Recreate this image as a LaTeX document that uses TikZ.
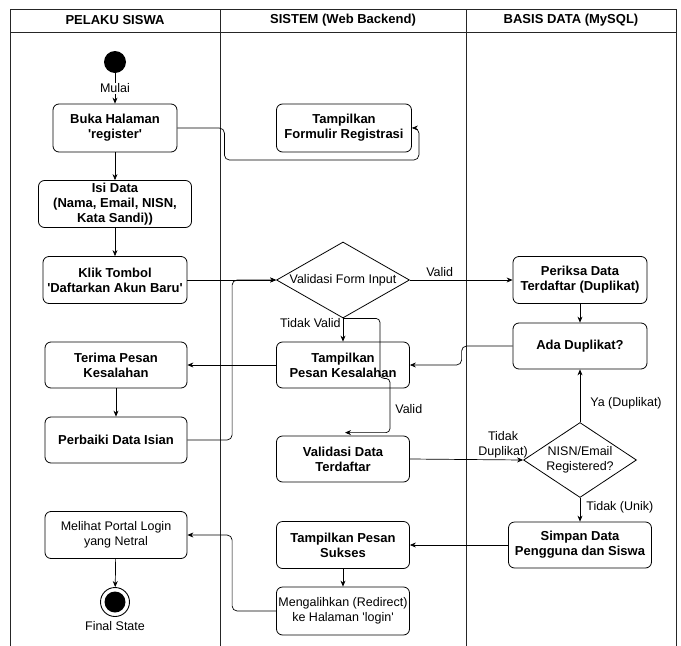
\documentclass[tikz,border=0pt]{standalone}
\usepackage{fontspec}
\setmainfont{Liberation Sans}
\usetikzlibrary{arrows.meta,shapes.geometric,positioning}

\begin{document}
\begin{tikzpicture}[x=1pt,y=-1pt,
    font=\fontsize{12.5}{14.5}\selectfont,
    lane/.style={line width=0.9pt, draw=black!85},
    act/.style={draw, rounded corners=6pt, line width=0.8pt, align=center, inner sep=1pt,
      font=\fontsize{13}{15}\selectfont\bfseries},
    actplain/.style={act, font=\fontsize{12.5}{14.5}\selectfont},
    decide/.style={draw, diamond, line width=0.8pt, align=center, inner sep=0pt},
    flow/.style={-{Stealth[length=6pt,width=5pt]}, line width=0.7pt},
    lbl/.style={inner sep=1pt}
  ]
  \useasboundingbox (0,0) rectangle (681,646);

  % swimlanes
  \draw[lane] (10,646) -- (10,9) -- (676,9) -- (676,646);
  \draw[lane] (10,32) -- (676,32);
  \draw[lane] (220,9) -- (220,646);
  \draw[lane] (466,9) -- (466,646);
  \node[font=\fontsize{13}{15}\selectfont\bfseries] (hsiswa) at (115,20.5) {PELAKU SISWA};
  \node[font=\fontsize{13}{15}\selectfont\bfseries] (hsistem) at (343,20.5) {SISTEM (Web Backend)};
  \node[font=\fontsize{13}{15}\selectfont\bfseries] (hbasis) at (571,20.5) {BASIS DATA (MySQL)};

  % pelaku siswa
  \node[circle, fill, minimum size=22pt, inner sep=0pt] (start) at (115,62) {};
  \node[act, minimum width=124pt, minimum height=48pt] (buka) at (115,128) {Buka Halaman\\\textquotesingle register\textquotesingle};
  \node[act, minimum width=153pt, minimum height=47pt] (isi) at (115,204) {Isi Data\\(Nama, Email, NISN,\\Kata Sandi))};
  \node[act, minimum width=144pt, minimum height=47pt] (klik) at (115,280) {Klik Tombol\\\textquotesingle Daftarkan Akun Baru\textquotesingle};
  \node[act, minimum width=142pt, minimum height=46pt] (terima) at (116,365) {Terima Pesan\\Kesalahan};
  \node[act, minimum width=142pt, minimum height=46pt] (perbaiki) at (116,440) {Perbaiki Data Isian};
  \node[actplain, minimum width=142pt, minimum height=47pt] (melihat) at (116,535) {Melihat Portal Login\\yang Netral};
  \node[circle, draw, line width=0.9pt, minimum size=29pt, inner sep=0pt] (final) at (115,602) {};
  \fill (final.center) circle (10.5pt);
  \node[below=1pt of final] (finallbl) {Final State};

  % sistem
  \node[act, minimum width=135pt, minimum height=48pt] (formulir) at (344,128) {Tampilkan\\Formulir Registrasi};
  \node[decide, aspect=1.75, minimum width=133pt, minimum height=76pt] (validform) at (343,280) {Validasi Form Input};
  \node[act, minimum width=133pt, minimum height=46pt] (pesanerr) at (343,365) {Tampilkan\\Pesan Kesalahan};
  \node[act, minimum width=133pt, minimum height=46pt] (validdata) at (343,459) {Validasi Data\\Terdaftar};
  \node[act, minimum width=133pt, minimum height=47pt] (sukses) at (343,545) {Tampilkan Pesan\\Sukses};
  \node[actplain, minimum width=133pt, minimum height=48pt] (alih) at (343,611) {Mengalihkan (Redirect)\\ke Halaman \textquotesingle login\textquotesingle};

  % basis data
  \node[act, minimum width=134pt, minimum height=47pt] (periksa) at (580,280) {Periksa Data\\Terdaftar (Duplikat)};
  \node[act, minimum width=134pt, minimum height=46pt] (ada) at (580,346) {Ada Duplikat?};
  \node[decide, aspect=1.5, minimum width=113pt, minimum height=75pt] (nisn) at (580,460) {NISN/Email\\Registered?};
  \node[act, minimum width=143pt, minimum height=46pt] (simpan) at (580,545) {Simpan Data\\Pengguna dan Siswa};

  % alur
  \draw[flow] (start) -- node[fill=white, lbl] {Mulai} (buka);
  \draw[flow, rounded corners=5pt] (buka.east) -- ++(47,0) |- ([xshift=7pt, yshift=-32pt]formulir.east) |- (formulir.east);
  \draw[flow] (buka) -- (isi);
  \draw[flow] (isi) -- (klik);
  \draw[flow] (klik) -- (validform);
  \draw[flow] (validform.east) -- node[pos=0.29, above, lbl, yshift=2pt] {Valid} (periksa.west);
  \draw[flow] (validform.south) -- node[pos=0.2, left, lbl, xshift=-1pt] {Tidak Valid} (pesanerr.north);
  \draw[flow, rounded corners=4pt] (validform.south) -- ++(37,0) -- ++(0,60) -- ++(10,0)
    |- node[pos=0.28, right, lbl, xshift=4pt] {Valid} ([xshift=2pt, yshift=3pt]validdata.north);
  \draw[flow] (periksa) -- (ada);
  \draw[flow, rounded corners=5pt] (ada.west) -- ++(-51,0) |- (pesanerr.east);
  \draw[flow] (pesanerr) -- (terima);
  \draw[flow] (terima) -- (perbaiki);
  \draw[flow, rounded corners=5pt] (perbaiki.east) -| ([xshift=-44pt]validform.west) -- (validform.west);
  \draw[flow] (validdata.east) -- node[pos=1, above left, align=center, lbl, xshift=6pt, yshift=1pt] {Tidak\\Duplikat)} (nisn.west);
  \draw[flow] (nisn.north) -- node[pos=0.36, right, lbl, xshift=9pt] {Ya (Duplikat)} (ada.south);
  \draw[flow] (nisn.south) -- node[pos=0.4, right, lbl, xshift=5pt] {Tidak (Unik)} (simpan.north);
  \draw[flow] (simpan) -- (sukses);
  \draw[flow] (sukses) -- (alih);
  \draw[flow, rounded corners=5pt] (alih.west) -- ++(-44,0) |- (melihat.east);
  \draw[flow] (melihat) -- (final);
\end{tikzpicture}
\end{document}
